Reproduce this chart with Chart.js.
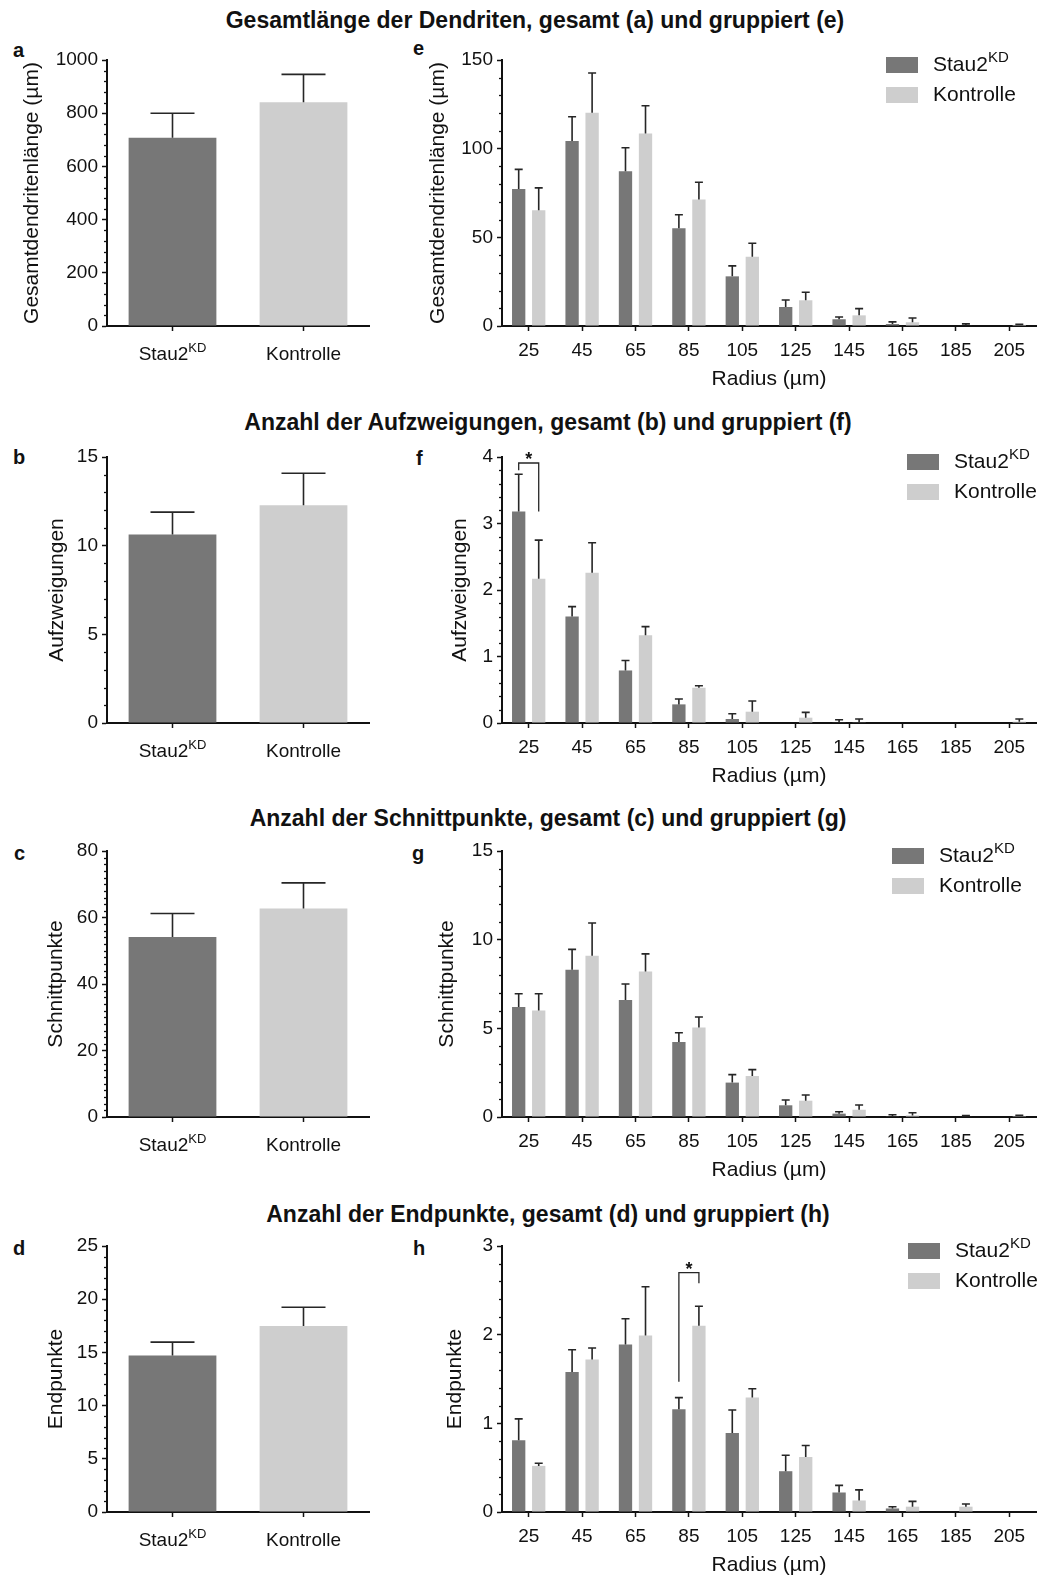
<!DOCTYPE html>
<html>
<head>
<meta charset="utf-8">
<script src="https://cdn.jsdelivr.net/npm/chart.js@4.4.0/dist/chart.umd.min.js"></script>
<style>
    body { margin: 0; background: #fff; width: 1040px; height: 1575px; position: relative; overflow: hidden;
           font-family: "Liberation Sans", Arial, sans-serif; color: #111; }
    .row-title { position: absolute; font-weight: bold; font-size: 23px; line-height: 26px; white-space: nowrap;
                 transform: translateX(-50%); }
    .letter { position: absolute; font-weight: bold; font-size: 20px; line-height: 24px; }
    canvas { position: absolute; }
</style>
</head>
<body>
<div class="row-title" style="left:535px; top:7px;">Gesamtlänge der Dendriten, gesamt (a) und gruppiert (e)</div>
<div class="row-title" style="left:548px; top:409px;">Anzahl der Aufzweigungen, gesamt (b) und gruppiert (f)</div>
<div class="row-title" style="left:548px; top:805px;">Anzahl der Schnittpunkte, gesamt (c) und gruppiert (g)</div>
<div class="row-title" style="left:548px; top:1201px;">Anzahl der Endpunkte, gesamt (d) und gruppiert (h)</div>

<div class="letter" style="left:13px; top:38px;">a</div>
<div class="letter" style="left:413px; top:36px;">e</div>
<div class="letter" style="left:13px; top:445px;">b</div>
<div class="letter" style="left:416px; top:446px;">f</div>
<div class="letter" style="left:14px; top:841px;">c</div>
<div class="letter" style="left:412px; top:841px;">g</div>
<div class="letter" style="left:13px; top:1236px;">d</div>
<div class="letter" style="left:413px; top:1236px;">h</div>

<canvas id="chart-a" width="390" height="346" style="left:0; top:40px; width:390px; height:346px;"></canvas>
<canvas id="chart-e" width="640" height="361" style="left:400px; top:40px; width:640px; height:361px;"></canvas>
<canvas id="chart-b" width="390" height="346" style="left:0; top:437px; width:390px; height:346px;"></canvas>
<canvas id="chart-f" width="640" height="361" style="left:400px; top:437px; width:640px; height:361px;"></canvas>
<canvas id="chart-c" width="390" height="346" style="left:0; top:831px; width:390px; height:346px;"></canvas>
<canvas id="chart-g" width="640" height="361" style="left:400px; top:831px; width:640px; height:361px;"></canvas>
<canvas id="chart-d" width="390" height="346" style="left:0; top:1226px; width:390px; height:346px;"></canvas>
<canvas id="chart-h" width="640" height="361" style="left:400px; top:1226px; width:640px; height:361px;"></canvas>

<script>
// Werte (Mittelwert + SEM)
const groups = ['Stau2KD', 'Kontrolle'];
const radii = ['25', '45', '65', '85', '105', '125', '145', '165', '185', '205'];

// a / e: Gesamtdendritenlänge
const lengthTotal = [708, 841];
const lengthTotalSem = [92, 105];
const lengthTotalTicks = [0, 200, 400, 600, 800, 1000];
const lengthStau = [77.2, 104.3, 87.3, 55.1, 28.0, 10.7, 3.8, 1.1, 0, 0];
const lengthStauSem = [11.1, 13.7, 13.2, 7.6, 5.9, 4.0, 1.3, 1.2, 0, 0];
const lengthKontrolle = [65.3, 120.3, 108.6, 71.3, 39.0, 14.5, 6.0, 2.1, 0.3, 0.6];
const lengthKontrolleSem = [12.6, 22.4, 15.6, 9.8, 7.7, 4.5, 3.8, 2.4, 0.9, 0.3];
const lengthRadiusTicks = [0, 50, 100, 150];

// b / f: Aufzweigungen
const branchTotal = [10.63, 12.28];
const branchTotalSem = [1.26, 1.8];
const branchTotalTicks = [0, 5, 10, 15];
const branchStau = [3.18, 1.60, 0.79, 0.28, 0.06, 0, 0.01, 0, 0, 0];
const branchStauSem = [0.56, 0.15, 0.15, 0.08, 0.08, 0, 0.04, 0, 0, 0];
const branchKontrolle = [2.17, 2.26, 1.32, 0.53, 0.17, 0.08, 0.01, 0, 0, 0.02];
const branchKontrolleSem = [0.58, 0.45, 0.13, 0.03, 0.16, 0.08, 0.05, 0, 0, 0.04];
const branchRadiusTicks = [0, 1, 2, 3, 4];
const branchSig = [{ index: 0, left: 3.80, top: 3.91, right: 3.18 }];

// c / g: Schnittpunkte
const crossTotal = [54.1, 62.7];
const crossTotalSem = [7.1, 7.7];
const crossTotalTicks = [0, 20, 40, 60, 80];
const crossStau = [6.2, 8.3, 6.6, 4.23, 1.94, 0.66, 0.19, 0.04, 0, 0];
const crossStauSem = [0.75, 1.15, 0.9, 0.52, 0.45, 0.3, 0.11, 0.09, 0, 0];
const crossKontrolle = [6.0, 9.1, 8.2, 5.04, 2.31, 0.92, 0.41, 0.09, 0.03, 0.05];
const crossKontrolleSem = [0.95, 1.84, 1.0, 0.6, 0.36, 0.32, 0.27, 0.15, 0.05, 0.05];
const crossRadiusTicks = [0, 5, 10, 15];

// d / h: Endpunkte
const endTotal = [14.7, 17.47];
const endTotalSem = [1.27, 1.78];
const endTotalTicks = [0, 5, 10, 15, 20, 25];
const endStau = [0.81, 1.58, 1.89, 1.16, 0.89, 0.46, 0.22, 0.04, 0, 0];
const endStauSem = [0.24, 0.25, 0.29, 0.13, 0.26, 0.18, 0.08, 0.02, 0, 0];
const endKontrolle = [0.52, 1.72, 1.99, 2.10, 1.29, 0.62, 0.13, 0.06, 0.06, 0];
const endKontrolleSem = [0.03, 0.13, 0.55, 0.22, 0.10, 0.13, 0.12, 0.06, 0.03, 0];
const endRadiusTicks = [0, 1, 2, 3];
const endSig = [{ index: 3, left: 1.47, top: 2.70, right: 2.58 }];

const FONT = '"Liberation Sans", Arial, sans-serif';
const STAU_COLOR = '#777777';
const KONTROLLE_COLOR = '#cecece';
const INK = '#111111';

Chart.defaults.font.family = FONT;
Chart.defaults.color = INK;

// "Stau2" mit hochgestelltem "KD"
function drawGroupLabel(ctx, text, x, y, size, align) {
    ctx.textBaseline = 'middle';
    ctx.textAlign = 'left';
    let main = text, sup = '';
    if (text.startsWith('Stau2')) { main = 'Stau2'; sup = text.slice(5); }
    const supSize = Math.round(size * 0.7);
    ctx.font = size + 'px ' + FONT;
    const w1 = ctx.measureText(main).width;
    ctx.font = supSize + 'px ' + FONT;
    const w2 = sup ? ctx.measureText(sup).width : 0;
    const start = align === 'center' ? x - (w1 + w2) / 2 : x;
    ctx.font = size + 'px ' + FONT;
    ctx.fillText(main, start, y);
    if (sup) {
        ctx.font = supSize + 'px ' + FONT;
        ctx.fillText(sup, start + w1, y - size * 0.36);
    }
}

const decorPlugin = {
    id: 'decor',
    afterDatasetsDraw(chart, args, opts) {
        const ctx = chart.ctx;
        const yScale = chart.scales.y;
        ctx.save();
        ctx.strokeStyle = '#262626';
        ctx.lineWidth = 1.6;
        // Fehlerbalken (nur nach oben)
        chart.data.datasets.forEach((ds, di) => {
            const meta = chart.getDatasetMeta(di);
            meta.data.forEach((bar, i) => {
                const sem = ds.sem[i];
                if (!sem) return;
                const yTop = yScale.getPixelForValue(ds.data[i] + sem);
                const half = opts.capWidth / 2;
                ctx.beginPath();
                ctx.moveTo(bar.x, bar.y);
                ctx.lineTo(bar.x, yTop);
                ctx.moveTo(bar.x - half, yTop);
                ctx.lineTo(bar.x + half, yTop);
                ctx.stroke();
            });
        });
        // Signifikanzklammern
        (opts.sig || []).forEach(s => {
            const xl = chart.getDatasetMeta(0).data[s.index].x;
            const xr = chart.getDatasetMeta(1).data[s.index].x;
            const yt = yScale.getPixelForValue(s.top);
            ctx.lineWidth = 1.3;
            ctx.beginPath();
            ctx.moveTo(xl, yScale.getPixelForValue(s.left));
            ctx.lineTo(xl, yt);
            ctx.lineTo(xr, yt);
            ctx.lineTo(xr, yScale.getPixelForValue(s.right));
            ctx.stroke();
            ctx.fillStyle = INK;
            ctx.font = 'bold 18px ' + FONT;
            ctx.textAlign = 'center';
            ctx.textBaseline = 'middle';
            ctx.fillText('*', (xl + xr) / 2, yt - 3);
        });
        ctx.restore();
    },
    afterDraw(chart, args, opts) {
        const ctx = chart.ctx;
        const yScale = chart.scales.y;
        const xScale = chart.scales.x;
        const area = chart.chartArea;
        ctx.save();
        // kleine Zwischenstriche an der y-Achse
        ctx.strokeStyle = INK;
        ctx.lineWidth = 1.3;
        const n = Math.round((yScale.max - yScale.min) / opts.minorStep);
        for (let k = 1; k < n; k++) {
            const v = yScale.min + k * opts.minorStep;
            if (opts.ticks.some(t => Math.abs(t - v) < opts.minorStep / 100)) continue;
            const py = Math.round(yScale.getPixelForValue(v)) + 0.5;
            ctx.beginPath();
            ctx.moveTo(area.left - 3, py);
            ctx.lineTo(area.left, py);
            ctx.stroke();
        }
        ctx.fillStyle = INK;
        // Gruppenbeschriftung bei den Gesamt-Diagrammen
        if (opts.groupLabels) {
            chart.data.labels.forEach((lab, i) => {
                drawGroupLabel(ctx, lab, xScale.getPixelForTick(i), area.bottom + 29, 19, 'center');
            });
        }
        // Legende
        if (opts.legendX) {
            chart.data.datasets.forEach((ds, di) => {
                const cy = area.top + 5 + di * 30;
                ctx.fillStyle = ds.backgroundColor;
                ctx.fillRect(opts.legendX, cy - 8, 32, 16);
                ctx.fillStyle = INK;
                drawGroupLabel(ctx, ds.label, opts.legendX + 47, cy, 21, 'left');
            });
        }
        ctx.restore();
    }
};

function yAxis(ticks, title, titlePad, axisWidth) {
    return {
        min: ticks[0],
        max: ticks[ticks.length - 1],
        afterBuildTicks: scale => { scale.ticks = ticks.map(v => ({ value: v })); },
        afterFit: scale => { scale.width = axisWidth; },
        ticks: { font: { size: 19 }, color: INK, padding: 4, callback: v => String(v) },
        grid: { display: true, drawOnChartArea: false, drawTicks: true, tickLength: 5, color: INK, tickWidth: 1.5 },
        border: { display: true, color: INK, width: 2 },
        title: { display: true, text: title, font: { size: 21 }, color: INK, padding: { top: titlePad, bottom: 0 } }
    };
}

function xAxis(axisHeight, showTicks, title) {
    return {
        afterFit: scale => { scale.height = axisHeight; },
        ticks: { display: showTicks, font: { size: 19 }, color: INK, padding: 8, maxRotation: 0, autoSkip: false },
        grid: { display: true, drawOnChartArea: false, drawTicks: true, offset: false, tickLength: 5, color: INK, tickWidth: 1.5 },
        border: { display: true, color: INK, width: 2 },
        title: { display: !!title, text: title || '', font: { size: 21 }, color: INK, padding: { top: 0, bottom: 9 } }
    };
}

// linke Spalte: Gesamtwerte
function makeTotalChart(id, values, sem, ticks, minorStep, yTitle, titlePad) {
    return new Chart(document.getElementById(id), {
        type: 'bar',
        data: {
            labels: groups,
            datasets: [{
                data: values,
                sem: sem,
                backgroundColor: [STAU_COLOR, KONTROLLE_COLOR],
                borderWidth: 0,
                categoryPercentage: 1,
                barPercentage: 0.67
            }]
        },
        options: {
            responsive: false,
            animation: false,
            devicePixelRatio: 1,
            layout: { padding: { top: 20, right: 21, left: 0, bottom: 0 } },
            plugins: {
                legend: { display: false },
                tooltip: { enabled: false },
                decor: { capWidth: 44, minorStep: minorStep, ticks: ticks, groupLabels: true }
            },
            scales: {
                x: xAxis(60, false, ''),
                y: yAxis(ticks, yTitle, titlePad, 107)
            }
        },
        plugins: [decorPlugin]
    });
}

// rechte Spalte: nach Radius gruppiert
function makeRadiusChart(id, stau, stauSem, kontrolle, kontrolleSem, ticks, minorStep, yTitle, titlePad, legendX, sig) {
    return new Chart(document.getElementById(id), {
        type: 'bar',
        data: {
            labels: radii,
            datasets: [
                { label: groups[0], data: stau, sem: stauSem, backgroundColor: STAU_COLOR, borderWidth: 0,
                  categoryPercentage: 0.75, barPercentage: 0.665 },
                { label: groups[1], data: kontrolle, sem: kontrolleSem, backgroundColor: KONTROLLE_COLOR, borderWidth: 0,
                  categoryPercentage: 0.75, barPercentage: 0.665 }
            ]
        },
        options: {
            responsive: false,
            animation: false,
            devicePixelRatio: 1,
            layout: { padding: { top: 20, right: 4, left: 0, bottom: 0 } },
            plugins: {
                legend: { display: false },
                tooltip: { enabled: false },
                decor: { capWidth: 8, minorStep: minorStep, ticks: ticks, legendX: legendX, sig: sig }
            },
            scales: {
                x: xAxis(75, true, 'Radius (µm)'),
                y: yAxis(ticks, yTitle, titlePad, 102)
            }
        },
        plugins: [decorPlugin]
    });
}

document.addEventListener('DOMContentLoaded', function() {
    makeTotalChart('chart-a', lengthTotal, lengthTotalSem, lengthTotalTicks, 40, 'Gesamtdendritenlänge (µm)', 20);
    makeTotalChart('chart-b', branchTotal, branchTotalSem, branchTotalTicks, 1, 'Aufzweigungen', 45);
    makeTotalChart('chart-c', crossTotal, crossTotalSem, crossTotalTicks, 2, 'Schnittpunkte', 44);
    makeTotalChart('chart-d', endTotal, endTotalSem, endTotalTicks, 1, 'Endpunkte', 44);

    makeRadiusChart('chart-e', lengthStau, lengthStauSem, lengthKontrolle, lengthKontrolleSem,
        lengthRadiusTicks, 10, 'Gesamtdendritenlänge (µm)', 26, 486, []);
    makeRadiusChart('chart-f', branchStau, branchStauSem, branchKontrolle, branchKontrolleSem,
        branchRadiusTicks, 0.2, 'Aufzweigungen', 48, 507, branchSig);
    makeRadiusChart('chart-g', crossStau, crossStauSem, crossKontrolle, crossKontrolleSem,
        crossRadiusTicks, 1, 'Schnittpunkte', 35, 492, []);
    makeRadiusChart('chart-h', endStau, endStauSem, endKontrolle, endKontrolleSem,
        endRadiusTicks, 0.2, 'Endpunkte', 43, 508, endSig);
});
</script>
</body>
</html>
